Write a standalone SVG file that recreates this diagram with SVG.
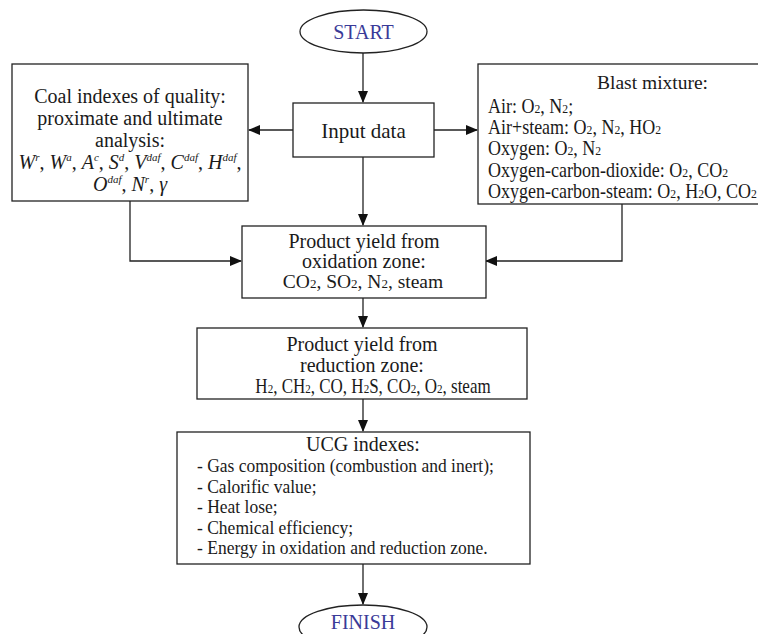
<svg xmlns="http://www.w3.org/2000/svg" width="758" height="634" viewBox="0 0 758 634">
<defs>
<style>
.box{fill:#fff;stroke:#222;stroke-width:1.3}
.t{font-family:"Liberation Serif","Times New Roman",serif;font-size:20px;fill:#1a1a1a}
.c{text-anchor:middle}
.it{font-style:italic}
.sub{font-size:13px}
.sup{font-size:11px}
.ox{font-size:19.5px}
.ul{font-size:18.5px}
.term{font-family:"Liberation Serif","Times New Roman",serif;font-size:20px;fill:#3a3a98;text-anchor:middle}
.con{fill:none;stroke:#222;stroke-width:1.3}
</style>
<marker id="ah" markerWidth="12" markerHeight="10" refX="11" refY="5" orient="auto" markerUnits="userSpaceOnUse">
<path d="M0,0 L12,5 L0,10 Z" fill="#111"/>
</marker>
</defs>
<rect width="758" height="634" fill="#fff"/>

<g id="connectors">
<line class="con" x1="363" y1="53" x2="363" y2="102" marker-end="url(#ah)"/>
<line class="con" x1="293" y1="130" x2="249" y2="130" marker-end="url(#ah)"/>
<line class="con" x1="434" y1="130" x2="477" y2="130" marker-end="url(#ah)"/>
<line class="con" x1="363" y1="157" x2="363" y2="225" marker-end="url(#ah)"/>
<polyline class="con" points="130,201 130,261 241,261" marker-end="url(#ah)"/>
<polyline class="con" points="622,204 622,261 486,261" marker-end="url(#ah)"/>
<line class="con" x1="363" y1="298" x2="363" y2="327" marker-end="url(#ah)"/>
<line class="con" x1="363" y1="399" x2="363" y2="431" marker-end="url(#ah)"/>
<line class="con" x1="363" y1="564" x2="363" y2="604" marker-end="url(#ah)"/>
</g>

<g id="start">
<ellipse cx="363.5" cy="31.5" rx="63.5" ry="21.5" fill="#fff" stroke="#222" stroke-width="1.3"/>
<text class="term" x="363.5" y="38.5">START</text>
</g>

<g id="input">
<rect class="box" x="293" y="103" width="141" height="54"/>
<text class="t c" x="363.5" y="137.5" style="font-size:21px">Input data</text>
</g>

<g id="coal">
<rect class="box" x="12" y="64" width="236" height="137"/>
<text class="t c" x="130" y="103">Coal indexes of quality:</text>
<text class="t c" x="130" y="125">proximate and ultimate</text>
<text class="t c" x="130" y="147">analysis:</text>
<text class="t c" x="130" y="169"><tspan class="it">W</tspan><tspan class="it sup" dy="-8">r</tspan><tspan dy="8">, </tspan><tspan class="it">W</tspan><tspan class="it sup" dy="-8">a</tspan><tspan dy="8">, </tspan><tspan class="it">A</tspan><tspan class="it sup" dy="-8">c</tspan><tspan dy="8">, </tspan><tspan class="it">S</tspan><tspan class="it sup" dy="-8">d</tspan><tspan dy="8">, </tspan><tspan class="it">V</tspan><tspan class="it sup" dy="-8">daf</tspan><tspan dy="8">, </tspan><tspan class="it">C</tspan><tspan class="it sup" dy="-8">daf</tspan><tspan dy="8">, </tspan><tspan class="it">H</tspan><tspan class="it sup" dy="-8">daf</tspan><tspan dy="8">,</tspan></text>
<text class="t c" x="130" y="191"><tspan class="it">O</tspan><tspan class="it sup" dy="-8">daf</tspan><tspan dy="8">,  </tspan><tspan class="it">N</tspan><tspan class="it sup" dy="-8">r</tspan><tspan dy="8">, </tspan><tspan class="it">γ</tspan></text>
</g>

<g id="blast">
<rect class="box" x="478" y="64" width="282" height="140"/>
<text class="t" x="597" y="89" style="font-size:19.5px">Blast mixture:</text>
<g transform="translate(488,0) scale(0.9,1)">
<text class="t" x="0" y="113">Air: O<tspan class="sub">2</tspan>, N<tspan class="sub">2</tspan>;</text>
<text class="t" x="0" y="134">Air+steam: O<tspan class="sub">2</tspan>, N<tspan class="sub">2</tspan>, HO<tspan class="sub">2</tspan></text>
<text class="t" x="0" y="155">Oxygen: O<tspan class="sub">2</tspan>, N<tspan class="sub">2</tspan></text>
<text class="t" x="0" y="177">Oxygen-carbon-dioxide: O<tspan class="sub">2</tspan>, CO<tspan class="sub">2</tspan></text>
<text class="t" x="0" y="198">Oxygen-carbon-steam: O<tspan class="sub">2</tspan>, H<tspan class="sub">2</tspan>O, CO<tspan class="sub">2</tspan></text>
</g>
</g>

<g id="oxidation">
<rect class="box" x="242" y="226" width="244" height="72"/>
<text class="t c" x="364" y="248">Product yield from</text>
<text class="t c" x="364" y="268">oxidation zone:</text>
<text class="t c ox" x="363" y="288">CO<tspan class="sub">2</tspan>, SO<tspan class="sub">2</tspan>, N<tspan class="sub">2</tspan>, steam</text>
</g>

<g id="reduction">
<rect class="box" x="197" y="328" width="330" height="71"/>
<text class="t c" x="362" y="351">Product yield from</text>
<text class="t c" x="362" y="372">reduction zone:</text>
<g transform="translate(373,0) scale(0.85,1)">
<text class="t c" x="0" y="393">H<tspan class="sub">2</tspan>, CH<tspan class="sub">2</tspan>, CO, H<tspan class="sub">2</tspan>S, CO<tspan class="sub">2</tspan>, O<tspan class="sub">2</tspan>, steam</text>
</g>
</g>

<g id="ucg">
<rect class="box" x="177" y="432" width="353" height="132"/>
<text class="t c" x="363" y="451">UCG indexes:</text>
<g transform="translate(197,0) scale(0.946,1)">
<text class="t ul" x="0" y="472.5">- Gas composition (combustion and inert);</text>
<text class="t ul" x="0" y="493">- Calorific value;</text>
<text class="t ul" x="0" y="513.5">- Heat lose;</text>
<text class="t ul" x="0" y="534">- Chemical efficiency;</text>
<text class="t ul" x="0" y="554.5">- Energy in oxidation and reduction zone.</text>
</g>
</g>

<g id="finish">
<ellipse cx="363" cy="627" rx="64" ry="22" fill="#fff" stroke="#222" stroke-width="1.3"/>
<text class="term" x="363" y="629">FINISH</text>
</g>
</svg>
